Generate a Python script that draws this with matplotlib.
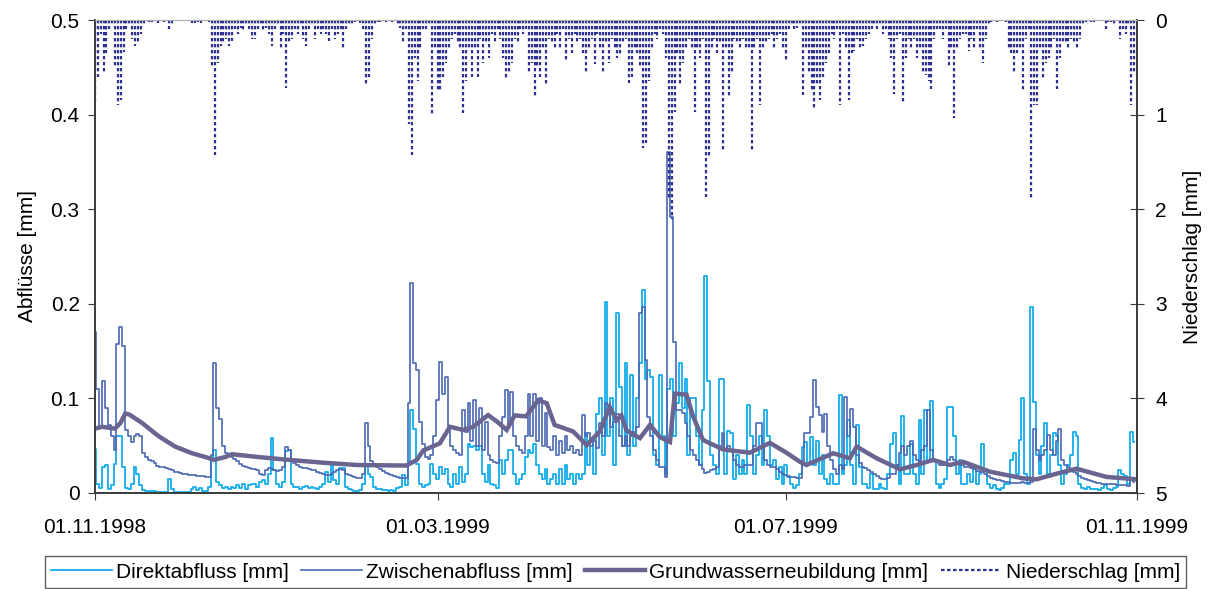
import numpy as np
import pandas as pd
import matplotlib
matplotlib.use('Agg')
import matplotlib.pyplot as plt
from matplotlib.lines import Line2D

plt.rcParams['font.family'] = ['Liberation Sans', 'DejaVu Sans']

# --- daily values, 01.11.1998 .. 31.10.1999 ----------------------------------
niederschlag = [
    0.88, 0.6, 0.15, 0.55, 0.35, 0.1, 0.05, 0.5, 0.9, 0.85,
    0.34, 0.1, 0.05, 0.2, 0.28, 0.25, 0.15, 0.05, 0, 0.02,
    0.02, 0, 0.03, 0, 0.02, 0, 0.1, 0.06, 0, 0,
    0, 0, 0, 0, 0.03, 0.03, 0.02, 0.03, 0, 0,
    0.02, 0.5, 1.43, 0.45, 0.28, 0.25, 0.2, 0.28, 0.22, 0.1,
    0.15, 0.08, 0.12, 0.05, 0.1, 0.2, 0.2, 0.1, 0.05, 0.12,
    0.08, 0.15, 0.28, 0.1, 0.05, 0.3, 0.15, 0.72, 0.25, 0.2,
    0.1, 0.15, 0.05, 0.2, 0.28, 0.1, 0.05, 0.2, 0.1, 0.15,
    0.1, 0.15, 0.22, 0.1, 0.2, 0.15, 0.1, 0.3, 0.1, 0.05,
    0.05, 0.02, 0, 0.03, 0.1, 0.69, 0.6, 0.2, 0.05, 0.02,
    0.02, 0.01, 0.02, 0, 0.02, 0.01, 0.05, 0.08, 0.23, 0.1,
    1.1, 1.43, 0.4, 0.65, 0.3, 0.1, 0.1, 0.05, 1.0, 0.3,
    0.75, 0.76, 0.6, 0.45, 0.3, 0.2, 0.15, 0.25, 0.3, 0.98,
    0.65, 0.3, 0.6, 0.3, 0.6, 0.2, 0.45, 0.25, 0.4, 0.15,
    0.25, 0.1, 0.2, 0.4, 0.63, 0.55, 0.45, 0.2, 0.25, 0.1,
    0.15, 0.1, 0.55, 0.45, 0.81, 0.5, 0.6, 0.3, 0.7, 0.2,
    0.25, 0.3, 0.15, 0.3, 0.1, 0.43, 0.2, 0.35, 0.15, 0.25,
    0.2, 0.35, 0.55, 0.3, 0.2, 0.47, 0.15, 0.3, 0.55, 0.25,
    0.45, 0.2, 0.3, 0.4, 0.38, 0.25, 0.2, 0.67, 0.6, 0.3,
    0.35, 0.5, 1.35, 1.3, 0.65, 0.3, 0.15, 0.2, 0.1, 0.15,
    0.4, 1.9, 2.1, 0.97, 0.35, 0.7, 0.45, 0.3, 0.2, 0.3,
    0.97, 0.3, 0.4, 0.2, 1.87, 1.46, 0.3, 0.2, 0.35, 0.25,
    1.4, 0.3, 0.8, 0.55, 0.2, 0.25, 0.3, 0.2, 0.3, 0.3,
    1.4, 0.3, 0.2, 0.9, 0.3, 0.25, 0.2, 0.15, 0.3, 0.2,
    0.15, 0.3, 0.42, 0.1, 0.05, 0.1, 0.08, 0.05, 0.79, 0.3,
    0.55, 0.75, 0.95, 0.7, 0.85, 0.6, 0.45, 0.35, 0.15, 0.2,
    0.1, 0.9, 0.15, 0.3, 0.85, 0.35, 0.33, 0.2, 0.3, 0.28,
    0.2, 0.15, 0.1, 0.05, 0.1, 0.05, 0.15, 0.1, 0.2, 0.4,
    0.78, 0.2, 0.15, 0.87, 0.4, 0.2, 0.3, 0.2, 0.4, 0.3,
    0.55, 0.58, 0.65, 0.73, 0.2, 0.1, 0.1, 0.2, 0.1, 0.5,
    0.3, 1.04, 0.3, 0.2, 0.15, 0.15, 0.33, 0.2, 0.3, 0.1,
    0.3, 0.45, 0.2, 0.05, 0.02, 0.01, 0.02, 0, 0.01, 0.02,
    0.3, 0.35, 0.55, 0.35, 0.3, 0.75, 0.2, 0.1, 1.9, 0.9,
    0.9, 0.3, 0.63, 0.45, 0.4, 0.3, 0.2, 0.73, 0.4, 0.25,
    0.25, 0.3, 0.2, 0.25, 0.3, 0.2, 0.05, 0.02, 0.01, 0.02,
    0.02, 0.01, 0, 0.01, 0.1, 0.02, 0.02, 0.05, 0.01, 0.2,
    0.1, 0.15, 0.05, 0.9, 0.55,
]

direktabfluss = [
    0.047, 0.01, 0.005, 0.028, 0.03, 0.004, 0.008, 0.031, 0.06, 0.06,
    0.028, 0.005, 0.004, 0.01, 0.028, 0.02, 0.008, 0.003, 0.002, 0.002,
    0.002, 0.002, 0.001, 0.001, 0.001, 0.001, 0.015, 0.004, 0.001, 0.001,
    0.001, 0.001, 0.001, 0.001, 0.004, 0.006, 0.003, 0.005, 0.002, 0.002,
    0.006, 0.035, 0.045, 0.012, 0.008, 0.005, 0.006, 0.004, 0.006, 0.005,
    0.008, 0.005, 0.01, 0.004, 0.008, 0.01, 0.009, 0.006, 0.012, 0.014,
    0.01, 0.02, 0.058, 0.024, 0.01, 0.006, 0.012, 0.044, 0.045, 0.01,
    0.006, 0.006, 0.004, 0.006, 0.007, 0.005, 0.006, 0.005, 0.004, 0.006,
    0.01, 0.0225, 0.012, 0.03, 0.014, 0.01, 0.026, 0.026, 0.006, 0.004,
    0.003, 0.002, 0.002, 0.003, 0.01, 0.03, 0.02, 0.017, 0.006, 0.004,
    0.004, 0.003, 0.003, 0.002, 0.003, 0.002, 0.005, 0.006, 0.019, 0.008,
    0.03, 0.088, 0.068, 0.031, 0.01, 0.006, 0.008, 0.01, 0.031, 0.02,
    0.015, 0.028, 0.02, 0.025, 0.01, 0.006, 0.02, 0.01, 0.028, 0.012,
    0.02, 0.052, 0.049, 0.05, 0.045, 0.05, 0.02, 0.012, 0.03, 0.01,
    0.008, 0.005, 0.035, 0.02, 0.035, 0.045, 0.045, 0.02, 0.01, 0.015,
    0.02, 0.038, 0.045, 0.042, 0.052, 0.03, 0.02, 0.015, 0.025, 0.01,
    0.015, 0.02, 0.01, 0.025, 0.01, 0.03, 0.015, 0.02, 0.01, 0.02,
    0.015, 0.02, 0.063, 0.03, 0.055, 0.02, 0.084, 0.1, 0.04, 0.202,
    0.06, 0.1, 0.03, 0.19, 0.112, 0.05, 0.137, 0.04, 0.125, 0.05,
    0.1, 0.137, 0.215, 0.12, 0.13, 0.123, 0.04, 0.03, 0.125, 0.06,
    0.02, 0.11, 0.12, 0.06, 0.095, 0.137, 0.09, 0.12, 0.04, 0.1,
    0.1, 0.06, 0.03, 0.088, 0.229, 0.118, 0.04, 0.03, 0.02, 0.12,
    0.12, 0.02, 0.066, 0.063, 0.015, 0.04, 0.02, 0.035, 0.02, 0.093,
    0.06, 0.02, 0.04, 0.06, 0.03, 0.088, 0.06, 0.03, 0.035, 0.015,
    0.027, 0.01, 0.03, 0.017, 0.01, 0.005, 0.008, 0.02, 0.049, 0.054,
    0.03, 0.059, 0.03, 0.055, 0.02, 0.04, 0.015, 0.01, 0.02, 0.01,
    0.01, 0.104, 0.02, 0.03, 0.077, 0.03, 0.01, 0.072, 0.028, 0.01,
    0.01, 0.005, 0.02, 0.004, 0.004, 0.01, 0.005, 0.004, 0.02, 0.052,
    0.063, 0.03, 0.01, 0.081, 0.02, 0.02, 0.052, 0.02, 0.01, 0.077,
    0.02, 0.088, 0.035, 0.097, 0.035, 0.01, 0.005, 0.01, 0.015, 0.091,
    0.091, 0.06, 0.02, 0.035, 0.01, 0.01, 0.02, 0.012, 0.028, 0.01,
    0.02, 0.052, 0.025, 0.01, 0.005, 0.008, 0.004, 0.003, 0.005, 0.01,
    0.01, 0.035, 0.042, 0.02, 0.056, 0.1, 0.02, 0.01, 0.197, 0.0965,
    0.04, 0.02, 0.05, 0.074, 0.02, 0.04, 0.063, 0.06, 0.03, 0.01,
    0.02, 0.03, 0.04, 0.065, 0.06, 0.01, 0.005, 0.004, 0.006, 0.004,
    0.004, 0.004, 0.003, 0.005, 0.008, 0.004, 0.003, 0.005, 0.006, 0.024,
    0.02, 0.018, 0.01, 0.065, 0.054,
]

zwischenabfluss = [
    0.17, 0.11, 0.07, 0.118, 0.09, 0.072, 0.06, 0.045, 0.158, 0.175,
    0.155, 0.067, 0.06, 0.054, 0.06, 0.062, 0.06, 0.042, 0.038, 0.035,
    0.034, 0.032, 0.029, 0.028, 0.027, 0.026, 0.025, 0.024, 0.0225, 0.022,
    0.021, 0.0205, 0.02, 0.0195, 0.019, 0.019, 0.018, 0.018, 0.0175, 0.017,
    0.017, 0.04, 0.137, 0.09, 0.078, 0.05, 0.042, 0.04, 0.038, 0.036,
    0.034, 0.031, 0.029, 0.027, 0.026, 0.025, 0.025, 0.024, 0.02, 0.019,
    0.024, 0.026, 0.025, 0.024, 0.023, 0.024, 0.028, 0.049, 0.045, 0.034,
    0.032, 0.03, 0.028, 0.026, 0.026, 0.025, 0.024, 0.024, 0.022, 0.021,
    0.02, 0.019, 0.019, 0.02, 0.022, 0.024, 0.025, 0.024, 0.02, 0.019,
    0.018, 0.017, 0.016, 0.016, 0.02, 0.074, 0.05, 0.034, 0.03, 0.027,
    0.025, 0.023, 0.021, 0.02, 0.019, 0.018, 0.017, 0.016, 0.016, 0.016,
    0.095, 0.222, 0.137, 0.13, 0.075, 0.052, 0.038, 0.036, 0.04, 0.06,
    0.098, 0.139, 0.105, 0.123, 0.067, 0.05, 0.045, 0.042, 0.04, 0.088,
    0.065, 0.095, 0.055, 0.098, 0.05, 0.09, 0.045, 0.075, 0.04, 0.035,
    0.033, 0.032, 0.06, 0.08, 0.109, 0.07, 0.107, 0.06, 0.05, 0.045,
    0.042, 0.06, 0.105, 0.06, 0.105, 0.055, 0.1, 0.05, 0.085, 0.049,
    0.045, 0.06, 0.04, 0.055, 0.042, 0.06, 0.045, 0.05, 0.042, 0.045,
    0.04, 0.082, 0.06, 0.063, 0.05, 0.055, 0.048, 0.074, 0.06, 0.095,
    0.093, 0.07, 0.075, 0.084, 0.06, 0.05, 0.06, 0.05, 0.06, 0.065,
    0.07, 0.19, 0.197, 0.141, 0.08, 0.06, 0.045, 0.035, 0.028, 0.028,
    0.017, 0.36, 0.292, 0.16, 0.088, 0.088, 0.085, 0.074, 0.06, 0.045,
    0.04, 0.035, 0.03, 0.025, 0.021, 0.022, 0.024, 0.025, 0.028, 0.05,
    0.063, 0.045, 0.05, 0.045, 0.035, 0.03, 0.028, 0.028, 0.03, 0.03,
    0.03, 0.05, 0.074, 0.074, 0.05, 0.035, 0.03, 0.028, 0.027, 0.025,
    0.022, 0.02, 0.019, 0.018, 0.017, 0.017, 0.016, 0.016, 0.03, 0.063,
    0.063, 0.08, 0.119, 0.091, 0.082, 0.065, 0.084, 0.05, 0.035, 0.025,
    0.02, 0.03, 0.025, 0.102, 0.06, 0.089, 0.07, 0.04, 0.032, 0.028,
    0.026, 0.024, 0.022, 0.02, 0.018, 0.016, 0.015, 0.015, 0.016, 0.02,
    0.02, 0.03, 0.042, 0.05, 0.04, 0.05, 0.055, 0.04, 0.035, 0.03,
    0.045, 0.05, 0.088, 0.045, 0.035, 0.033, 0.03, 0.03, 0.03, 0.035,
    0.038, 0.035, 0.033, 0.03, 0.03, 0.028, 0.028, 0.026, 0.025, 0.023,
    0.022, 0.022, 0.02, 0.018, 0.016, 0.015, 0.014, 0.0137, 0.013, 0.012,
    0.012, 0.011, 0.011, 0.011, 0.011, 0.012, 0.011, 0.011, 0.012, 0.068,
    0.045, 0.035, 0.04, 0.045, 0.061, 0.045, 0.04, 0.055, 0.068, 0.035,
    0.03, 0.027, 0.025, 0.022, 0.02, 0.018, 0.016, 0.015, 0.014, 0.013,
    0.012, 0.011, 0.011, 0.01, 0.01, 0.01, 0.009, 0.009, 0.008, 0.008,
    0.008, 0.008, 0.007, 0.015, 0.012,
]

# groundwater recharge, read at irregular days after 01.11.1998
gw_day = [0, 2.5, 7, 8.9, 10.6, 12, 16.5, 22.3, 28.1, 34, 39.8, 41.6, 45.6, 48,
          57.3, 68, 80, 91.7, 109, 112.7, 115, 120.8, 124.3, 129, 132.5, 137.7,
          141, 144.2, 147, 151, 155.2, 158.2, 161, 167.5, 172.2, 176.8, 180.3,
          182.7, 184.4, 186.2, 190.9, 194.4, 197.9, 201.4, 203.1, 207.2, 209.5,
          213, 220, 229.4, 236.4, 242.2, 246.9, 249.2, 258.6, 264.4, 266.8,
          273.8, 282, 287.8, 293.6, 299.4, 304.1, 313.5, 325.1, 329.8, 336.8,
          343.8, 354.3, 364.8]
gw_val = [0.068, 0.07, 0.068, 0.074, 0.084, 0.083, 0.074, 0.06, 0.049, 0.042,
          0.037, 0.035, 0.038, 0.041, 0.038, 0.035, 0.032, 0.0296, 0.029,
          0.035, 0.045, 0.0525, 0.07, 0.0666, 0.07, 0.0824, 0.075, 0.0666,
          0.082, 0.081, 0.098, 0.095, 0.072, 0.065, 0.0507, 0.065, 0.091,
          0.077, 0.082, 0.066, 0.058, 0.072, 0.059, 0.054, 0.105, 0.104,
          0.081, 0.056, 0.046, 0.0426, 0.053, 0.0426, 0.033, 0.0296, 0.042,
          0.0367, 0.049, 0.0367, 0.025, 0.0296, 0.035, 0.0296, 0.033, 0.0225,
          0.0155, 0.0145, 0.0204, 0.0257, 0.017, 0.0145]

tick_dates = ['1998-11-01', '1999-03-01', '1999-07-01', '1999-11-01']
tick_labels = ['01.11.1998', '01.03.1999', '01.07.1999', '01.11.1999']

start = pd.Timestamp('1998-11-01')
days = pd.date_range(start, periods=len(niederschlag), freq='D')
gw_dates = start + pd.to_timedelta(gw_day, unit='D')

c_da = '#13aeea'
c_zw = '#4a68b2'
c_gw = '#6a6490'
c_ns = '#2e3192'
c_axis = '#3a3a3a'
fs = 15

fig = plt.figure(figsize=(12.31, 5.89), dpi=100)
ax = fig.add_axes([95 / 1231, 1 - 493 / 589, (1137 - 95) / 1231, (493 - 20) / 589])

ax.plot(days, direktabfluss, color=c_da, lw=1.3, drawstyle='steps-mid', zorder=2)
ax.plot(days, zwischenabfluss, color=c_zw, lw=1.2, drawstyle='steps-mid', zorder=3)
ax.plot(gw_dates, gw_val, color=c_gw, lw=3.2, zorder=4, solid_joinstyle='miter')

ax.set_xlim(start, pd.Timestamp('1999-11-01'))
ax.set_ylim(0, 0.5)
ax.set_yticks([0, 0.1, 0.2, 0.3, 0.4, 0.5])
ax.set_yticklabels(['0', '0.1', '0.2', '0.3', '0.4', '0.5'])
ax.set_xticks(pd.to_datetime(tick_dates))
ax.set_xticklabels(tick_labels)
ax.tick_params(axis='x', direction='out', length=5, pad=13, labelsize=fs, color=c_axis)
ax.tick_params(axis='y', direction='out', length=5, pad=6, labelsize=fs, color=c_axis)
ax.set_ylabel('Abflüsse [mm]', fontsize=fs, labelpad=10)
for s in ['left', 'bottom', 'right']:
    ax.spines[s].set_color(c_axis)
    ax.spines[s].set_linewidth(1.2)
ax.spines['top'].set_color('#b0b0b0')

ax2 = ax.twinx()
ax2.vlines(days, 0, niederschlag, colors=c_ns, linestyles=(0, (1.5, 1.2)), lw=1.6)
ax2.set_ylim(5, 0)
ax2.set_yticks([0, 1, 2, 3, 4, 5])
ax2.tick_params(axis='y', direction='inout', length=10, pad=8, labelsize=fs, color=c_axis)
ax2.set_ylabel('Niederschlag [mm]', fontsize=fs, labelpad=12)
for s in ['left', 'bottom', 'right']:
    ax2.spines[s].set_color(c_axis)
    ax2.spines[s].set_linewidth(1.2)
ax2.spines['top'].set_color('#b0b0b0')

handles = [
    Line2D([], [], color=c_da, lw=1.3),
    Line2D([], [], color=c_zw, lw=1.2),
    Line2D([], [], color=c_gw, lw=3.2),
    Line2D([], [], color=c_ns, lw=1.6, linestyle=(0, (1.6, 1.1))),
]
labels = ['Direktabfluss [mm]', 'Zwischenabfluss [mm]',
          'Grundwasserneubildung [mm]', 'Niederschlag [mm]']
leg = fig.legend(handles, labels, loc='upper center', ncol=4,
                 bbox_to_anchor=(0.5, 1 - 546 / 589), fontsize=fs,
                 frameon=True, fancybox=False, handlelength=2.9,
                 handletextpad=0.2, columnspacing=0.6, borderpad=0.3)
leg.get_frame().set_edgecolor(c_axis)
leg.get_frame().set_linewidth(1.0)

fig.savefig('out.png', dpi=100)
